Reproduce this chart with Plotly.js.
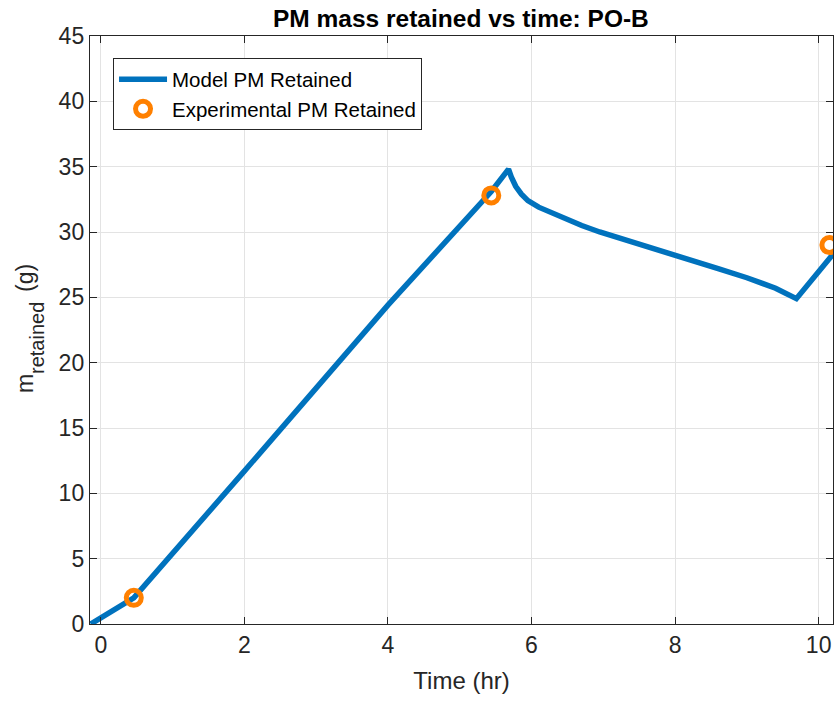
<!DOCTYPE html>
<html>
<head>
<meta charset="utf-8">
<script src="https://cdn.plot.ly/plotly-3.0.1.min.js"></script>
<style>html,body{margin:0;padding:0;background:#fff;}</style>
</head>
<body>
<div id="chart" style="width:835px;height:701px;"></div>
<script>
// Model curve (time in hr, mass in g)
const modelTime = [-0.14, 0.46, 2.0, 4.0, 5.44, 5.68, 5.72, 5.78, 5.86, 5.95, 6.1, 6.3, 6.5, 6.7, 6.95, 7.5, 8.0, 8.6, 9.0, 9.4, 9.69, 10.2];
const modelMass = [0.0, 2.0, 11.7, 24.4, 33.1, 34.8, 34.2, 33.5, 32.9, 32.4, 31.9, 31.4, 30.9, 30.5, 30.0, 29.1, 28.2, 27.2, 26.5, 25.7, 24.9, 28.3];
// Experimental points
const expTime = [0.46, 5.44, 10.15];
const expMass = [2.0, 32.8, 29.0];

const font = "Liberation Sans, Arial, Helvetica, sans-serif";
const axisColor = "#262626";

const traces = [
  {
    x: modelTime, y: modelMass, type: "scatter", mode: "lines",
    name: "Model PM Retained",
    line: {color: "#0072BD", width: 5.5}
  },
  {
    x: expTime, y: expMass, type: "scatter", mode: "markers",
    name: "Experimental PM Retained",
    marker: {symbol: "circle-open", size: 15, color: "#FF8000", line: {color: "#FF8000", width: 5}}
  }
];

// y-axis title drawn as three rotated text pieces (main letter, large subscript, unit)
const yTitleParts = [
  {text: "m", px: 25, py: 384, size: 23},
  {text: "retained", px: 37, py: 338, size: 20},
  {text: "(g)", px: 25, py: 278, size: 23}
];
const plotL = 90, plotW = 743, plotT = 36, plotH = 588;
const annotations = yTitleParts.map(p => ({
  text: p.text, xref: "paper", yref: "paper",
  x: (p.px - plotL) / plotW, y: (plotT + plotH - p.py) / plotH,
  xanchor: "center", yanchor: "middle", textangle: -90, showarrow: false,
  font: {family: font, size: p.size, color: axisColor}
}));

const layout = {
  width: 835, height: 701,
  paper_bgcolor: "#ffffff", plot_bgcolor: "#ffffff",
  margin: {l: 90, r: 2, t: 36, b: 77},
  font: {family: font, color: axisColor},
  title: {
    text: "<b>PM mass retained vs time: PO-B</b>",
    font: {family: font, size: 24.5, color: "#000000"},
    x: 0.552, xanchor: "center", y: 0.974, yanchor: "middle"
  },
  showlegend: true,
  legend: {
    x: 0.031, y: 0.962, xanchor: "left", yanchor: "top",
    bgcolor: "#ffffff", bordercolor: "#262626", borderwidth: 1,
    font: {family: font, size: 20.5, color: "#000000"},
    tracegroupgap: 0, itemwidth: 48
  },
  annotations: annotations,
  xaxis: {
    range: [-0.15, 10.2], dtick: 2, tick0: 0,
    showgrid: true, gridcolor: "#e3e3e3", gridwidth: 1,
    zeroline: false, showline: true, linecolor: axisColor, linewidth: 1.2,
    mirror: "allticks", ticks: "inside", ticklen: 7, tickcolor: axisColor,
    tickfont: {family: font, size: 23, color: axisColor},
    title: {text: "Time (hr)", font: {family: font, size: 24, color: axisColor}, standoff: 15}
  },
  yaxis: {
    range: [0, 45], dtick: 5, tick0: 0,
    showgrid: true, gridcolor: "#e3e3e3", gridwidth: 1,
    zeroline: false, showline: true, linecolor: axisColor, linewidth: 1.2,
    mirror: "allticks", ticks: "inside", ticklen: 7, tickcolor: axisColor,
    tickfont: {family: font, size: 23, color: axisColor}
  }
};

Plotly.newPlot("chart", traces, layout, {displayModeBar: false, staticPlot: true});
</script>
</body>
</html>
